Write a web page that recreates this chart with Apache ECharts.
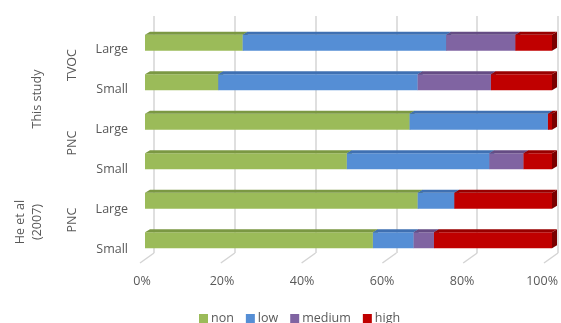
<!DOCTYPE html>
<html><head><meta charset="utf-8">
<script src="https://cdn.jsdelivr.net/npm/echarts@6/dist/echarts.min.js"></script>
<style>html,body{margin:0;padding:0;background:#fff}#c{width:561px;height:323px}</style>
</head><body><div id="c"></div>
<script>
// ---- data ----
const categories = ["Large","Small","Large","Small","Large","Small"];
const seriesNames = ["non","low","medium","high"];
const nonVals    = [24, 18, 65, 49.6, 67, 56];
const lowVals    = [50, 49, 34, 35, 9, 10];
const mediumVals = [17, 18, 0, 8.4, 0, 5];
const highVals   = [9, 15, 1, 7, 24, 29];
const tickLabels = ["0%","20%","40%","60%","80%","100%"];
const pollutantLabels = ["TVOC","PNC","PNC"];
const studyLabels = ["This study","He et al\n(2007)"];

const FONT = "'Open Sans', 'Liberation Sans', sans-serif";
const TXT = '#595959';
const faceColors = ['#9BBB59','#558ED5','#8064A2','#C00000'];
const topColors  = ['#7B9843','#3F70B2','#654C84','#980000'];
const sideColors = ['#6E883B','#35629E','#573F73','#7A0000'];
const allVals = [nonVals, lowVals, mediumVals, highVals];

// cumulative stacks
const stacked = allVals.map((arr, si) => arr.map((v, ci) => {
  let s = 0; for (let k = 0; k < si; k++) s += allVals[k][ci];
  return [ci, s, s + v];
}));

const DX = 5, DY = 3, BAR_H = 16;
function makeRender(si) {
  return function (params, api) {
    const ci = api.value(0), s = api.value(1), e = api.value(2);
    if (e - s <= 0) return null;
    const a = api.coord([s, ci]), b = api.coord([e, ci]);
    const x0 = a[0], x1 = b[0], yc = a[1];
    const yt = yc - BAR_H / 2, yb = yc + BAR_H / 2;
    return {
      type: 'group',
      children: [
        { type: 'polygon', shape: { points: [[x1, yt], [x1 + DX, yt - DY], [x1 + DX, yb - DY], [x1, yb]] },
          style: { fill: sideColors[si] } },
        { type: 'rect', shape: { x: x0, y: yt, width: x1 - x0, height: BAR_H },
          style: { fill: faceColors[si] } },
        { type: 'polygon', shape: { points: [[x0, yt], [x1, yt], [x1 + DX, yt - DY], [x0 + DX, yt - DY]] },
          style: { fill: topColors[si] } }
      ]
    };
  };
}

const chart = echarts.init(document.getElementById('c'), null, { renderer: 'canvas' });

// floor diagonals for wall grid
const wallTicks = [0, 20, 40, 60, 80, 100];

const option = {
  animation: false,
  textStyle: { fontFamily: FONT },
  grid: [
    { left: 154, right: 3, top: 16, bottom: 70 },      // back wall
    { left: 145, right: 9, top: 23, bottom: 63 },      // bars (front faces)
    { left: 142, right: 16, top: 29, bottom: 53 }      // labels
  ],
  xAxis: [
    { gridIndex: 0, type: 'value', min: 0, max: 100, interval: 20,
      axisLine: { show: false }, axisTick: { show: false }, axisLabel: { show: false },
      splitLine: { show: true, lineStyle: { color: '#d4d4d4', width: 1.5 } } },
    { gridIndex: 1, type: 'value', min: 0, max: 100, show: false },
    { gridIndex: 2, type: 'value', min: 0, max: 100, interval: 20,
      axisLine: { show: false }, axisTick: { show: false }, splitLine: { show: false },
      axisLabel: { margin: 5, color: TXT, fontSize: 12.5, fontFamily: FONT,
        formatter: (v) => tickLabels[Math.round(v / 20)] } }
  ],
  yAxis: [
    { gridIndex: 0, type: 'value', min: 0, max: 1, show: false },
    { gridIndex: 1, type: 'category', data: categories, inverse: true, show: false },
    { gridIndex: 2, type: 'category', data: categories, inverse: true,
      axisLine: { show: false }, axisTick: { show: false },
      axisLabel: { margin: 14, color: TXT, fontSize: 12.5, fontFamily: FONT } }
  ],
  legend: {
    data: seriesNames, left: 194, top: 307, icon: 'rect', itemWidth: 9, itemHeight: 9,
    itemGap: 12, textStyle: { color: TXT, fontSize: 12.5, fontFamily: FONT, padding: [0, 0, 0, -2] }
  },
  graphic: [
    { type: 'text', x: 72, y: 65, rotation: Math.PI / 2,
      style: { text: pollutantLabels[0], fill: TXT, font: '12.5px ' + FONT, align: 'center', verticalAlign: 'middle' } },
    { type: 'text', x: 72, y: 143, rotation: Math.PI / 2,
      style: { text: pollutantLabels[1], fill: TXT, font: '12.5px ' + FONT, align: 'center', verticalAlign: 'middle' } },
    { type: 'text', x: 72, y: 220, rotation: Math.PI / 2,
      style: { text: pollutantLabels[2], fill: TXT, font: '12.5px ' + FONT, align: 'center', verticalAlign: 'middle' } },
    { type: 'text', x: 37, y: 99, rotation: Math.PI / 2,
      style: { text: studyLabels[0], fill: TXT, font: '12.5px ' + FONT, align: 'center', verticalAlign: 'middle' } },
    { type: 'text', x: 29, y: 222, rotation: Math.PI / 2,
      style: { text: studyLabels[1], fill: TXT, font: '12.5px ' + FONT, align: 'center', verticalAlign: 'middle', lineHeight: 17 } }
  ],
  series: [
    {
      type: 'custom', name: '_floor', xAxisIndex: 0, yAxisIndex: 0, silent: true,
      data: wallTicks.map(t => [t, 0]),
      renderItem: function (params, api) {
        const p = api.coord([api.value(0), 0]);
        return { type: 'line', shape: { x1: p[0], y1: p[1], x2: p[0] - 14, y2: p[1] + 10 },
          style: { stroke: '#d4d4d4', lineWidth: 1.5 } };
      }
    }
  ].concat(seriesNames.map((n, si) => ({
    type: 'custom', name: n, xAxisIndex: 1, yAxisIndex: 1,
    itemStyle: { color: faceColors[si] },
    encode: { x: [1, 2], y: 0 },
    data: stacked[si],
    renderItem: makeRender(si)
  })))
};
chart.setOption(option);
</script></body></html>
